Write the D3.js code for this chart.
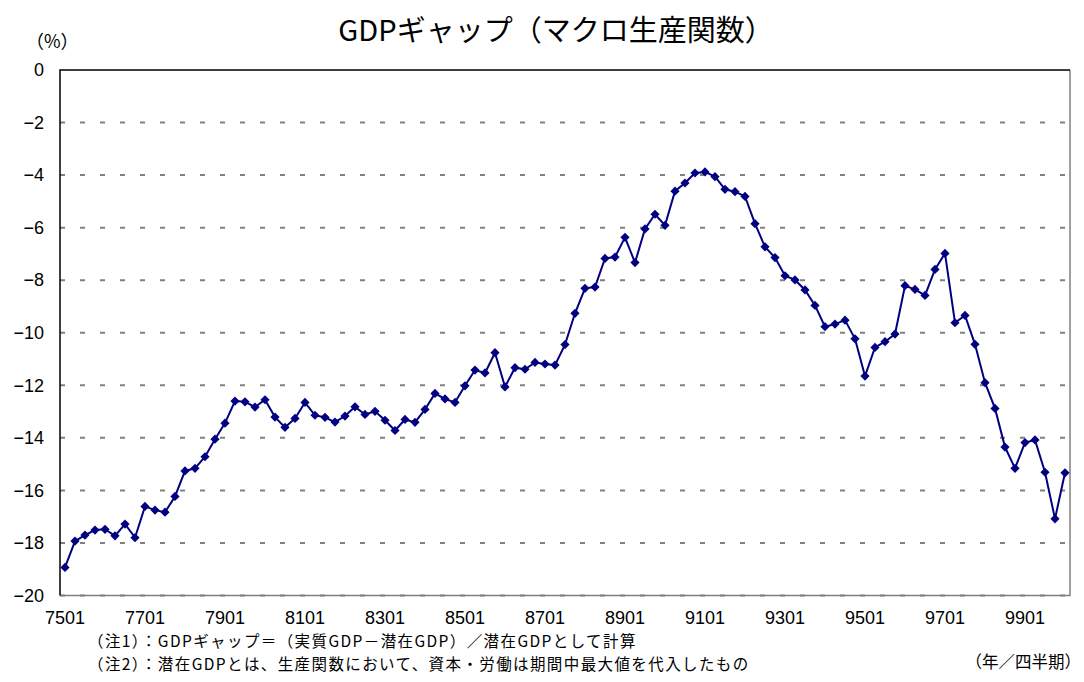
<!doctype html>
<html lang="ja">

<head>
  <meta charset="utf-8">
  <title>GDPギャップ</title>
  <style>
    * { margin: 0; padding: 0; box-sizing: border-box; }
    body { background: #fff; }
    #container { width: 1084px; height: 682px; }
    text { fill: #000; }
    .jp { font-family: "Noto Sans CJK JP", sans-serif; }
    .num { font-family: "Liberation Sans", Arial, sans-serif; font-size: 18px; }
  </style>
</head>

<body>
  <div id="container"></div>
  <script src="https://cdn.jsdelivr.net/npm/d3@7/dist/d3.min.js"></script>
  <script>
    // quarterly GDP gap, 1975Q1 - 2000Q1
    const gap = [
      -18.93, -17.93, -17.70, -17.51, -17.48, -17.73, -17.28, -17.80,
      -16.61, -16.75, -16.83, -16.23, -15.26, -15.16, -14.72, -14.05,
      -13.44, -12.60, -12.63, -12.83, -12.55, -13.21, -13.60, -13.26,
      -12.65, -13.14, -13.22, -13.40, -13.17, -12.82, -13.11, -12.99,
      -13.33, -13.72, -13.30, -13.41, -12.92, -12.31, -12.52, -12.65,
      -12.02, -11.42, -11.53, -10.76, -12.06, -11.33, -11.39, -11.13,
      -11.19, -11.23, -10.45, -9.26, -8.31, -8.26, -7.17, -7.12,
      -6.37, -7.33, -6.05, -5.49, -5.91, -4.61, -4.30, -3.92,
      -3.88, -4.06, -4.54, -4.63, -4.81, -5.85, -6.73, -7.14,
      -7.83, -7.99, -8.37, -8.96, -9.77, -9.67, -9.52, -10.23,
      -11.65, -10.56, -10.34, -10.05, -8.21, -8.35, -8.58, -7.59,
      -6.98, -9.62, -9.34, -10.44, -11.90, -12.88, -14.35, -15.16,
      -14.18, -14.08, -15.31, -17.08, -15.33
    ];

    const years = d3.range(75, 101);
    const quarters = ['01', '02', '03', '04'];
    const categories = years.flatMap(y => quarters.map(q => String(y % 100).padStart(2, '0') + q))
      .slice(0, gap.length);

    const xTickLabels = ['7501', '7701', '7901', '8101', '8301', '8501', '8701', '8901', '9101', '9301', '9501', '9701', '9901'];
    const yTicks = [0, -2, -4, -6, -8, -10, -12, -14, -16, -18, -20];

    const title = 'GDPギャップ（マクロ生産関数）';
    const unitLabel = '（%）';
    const notes = [
      '（注1）：GDPギャップ＝（実質GDP－潜在GDP）／潜在GDPとして計算',
      '（注2）：潜在GDPとは、生産関数において、資本・労働は期間中最大値を代入したもの'
    ];
    const xAxisLabel = '（年／四半期）';

    const W = 1084, H = 682;
    const plot = {l: 60, r: 1070, t: 70, b: 595.5};

    const svg = d3.select('#container').append('svg')
      .attr('width', W)
      .attr('height', H);

    const x = d3.scaleBand()
      .domain(categories)
      .range([plot.l, plot.r]);

    const y = d3.scaleLinear()
      .domain([0, -20])
      .range([plot.t, plot.b]);

    const cx = d => x(d) + x.bandwidth() / 2;

    // gridlines
    svg.append('g')
      .selectAll('line')
      .data(yTicks.filter(v => v !== 0))
      .enter()
      .append('line')
      .attr('x1', plot.l)
      .attr('x2', plot.r)
      .attr('y1', d => y(d))
      .attr('y2', d => y(d))
      .attr('stroke', '#808080')
      .attr('stroke-width', 2)
      .attr('stroke-dasharray', '5,15');

    // plot area border (right/bottom grey)
    svg.append('path')
      .attr('d', `M${plot.r},${plot.t}V${plot.b}H${plot.l}`)
      .attr('fill', 'none')
      .attr('stroke', '#808080')
      .attr('stroke-width', 1.5);

    // value axis (left) and category axis crossing at 0 (top)
    svg.append('path')
      .attr('d', `M${plot.l},${plot.b}V${plot.t}H${plot.r}`)
      .attr('fill', 'none')
      .attr('stroke', '#000')
      .attr('stroke-width', 1.5);

    const yAxis = d3.axisLeft(y)
      .tickValues(yTicks)
      .tickSize(0)
      .tickPadding(16)
      .tickFormat(d3.format('d'));

    svg.append('g')
      .attr('transform', `translate(${plot.l},0)`)
      .call(yAxis)
      .call(g => g.select('.domain').remove())
      .call(g => g.selectAll('text').attr('class', 'num').attr('font-family', null).attr('font-size', null));

    const xAxis = d3.axisBottom(x)
      .tickValues(xTickLabels)
      .tickSize(0)
      .tickPadding(0);

    svg.append('g')
      .attr('transform', `translate(0,${plot.b + 16})`)
      .call(xAxis)
      .call(g => g.select('.domain').remove())
      .call(g => g.selectAll('text').attr('class', 'num').attr('font-family', null).attr('font-size', null));

    // series
    const line = d3.line()
      .x((d, i) => cx(categories[i]))
      .y(d => y(d));

    svg.append('path')
      .datum(gap)
      .attr('d', line)
      .attr('fill', 'none')
      .attr('stroke', '#000080')
      .attr('stroke-width', 2);

    svg.append('g')
      .selectAll('path')
      .data(gap)
      .enter()
      .append('path')
      .attr('d', 'M0,-4.6L4.6,0L0,4.6L-4.6,0Z')
      .attr('transform', (d, i) => `translate(${cx(categories[i])},${y(d)})`)
      .attr('fill', '#000080');

    // texts
    svg.append('text')
      .attr('class', 'jp')
      .attr('x', 556)
      .attr('y', 41)
      .attr('text-anchor', 'middle')
      .attr('font-size', 29)
      .text(title);

    svg.append('text')
      .attr('class', 'jp')
      .attr('x', 26)
      .attr('y', 48)
      .attr('font-size', 18)
      .text(unitLabel);

    svg.append('g')
      .selectAll('text')
      .data(notes)
      .enter()
      .append('text')
      .attr('class', 'jp')
      .attr('x', 88)
      .attr('y', (d, i) => 647 + i * 22.5)
      .attr('font-size', 15.5)
      .attr('letter-spacing', 1.4)
      .text(d => d);

    svg.append('text')
      .attr('class', 'jp')
      .attr('x', 1081)
      .attr('y', 668)
      .attr('text-anchor', 'end')
      .attr('font-size', 16.5)
      .text(xAxisLabel);
  </script>
</body>

</html>
